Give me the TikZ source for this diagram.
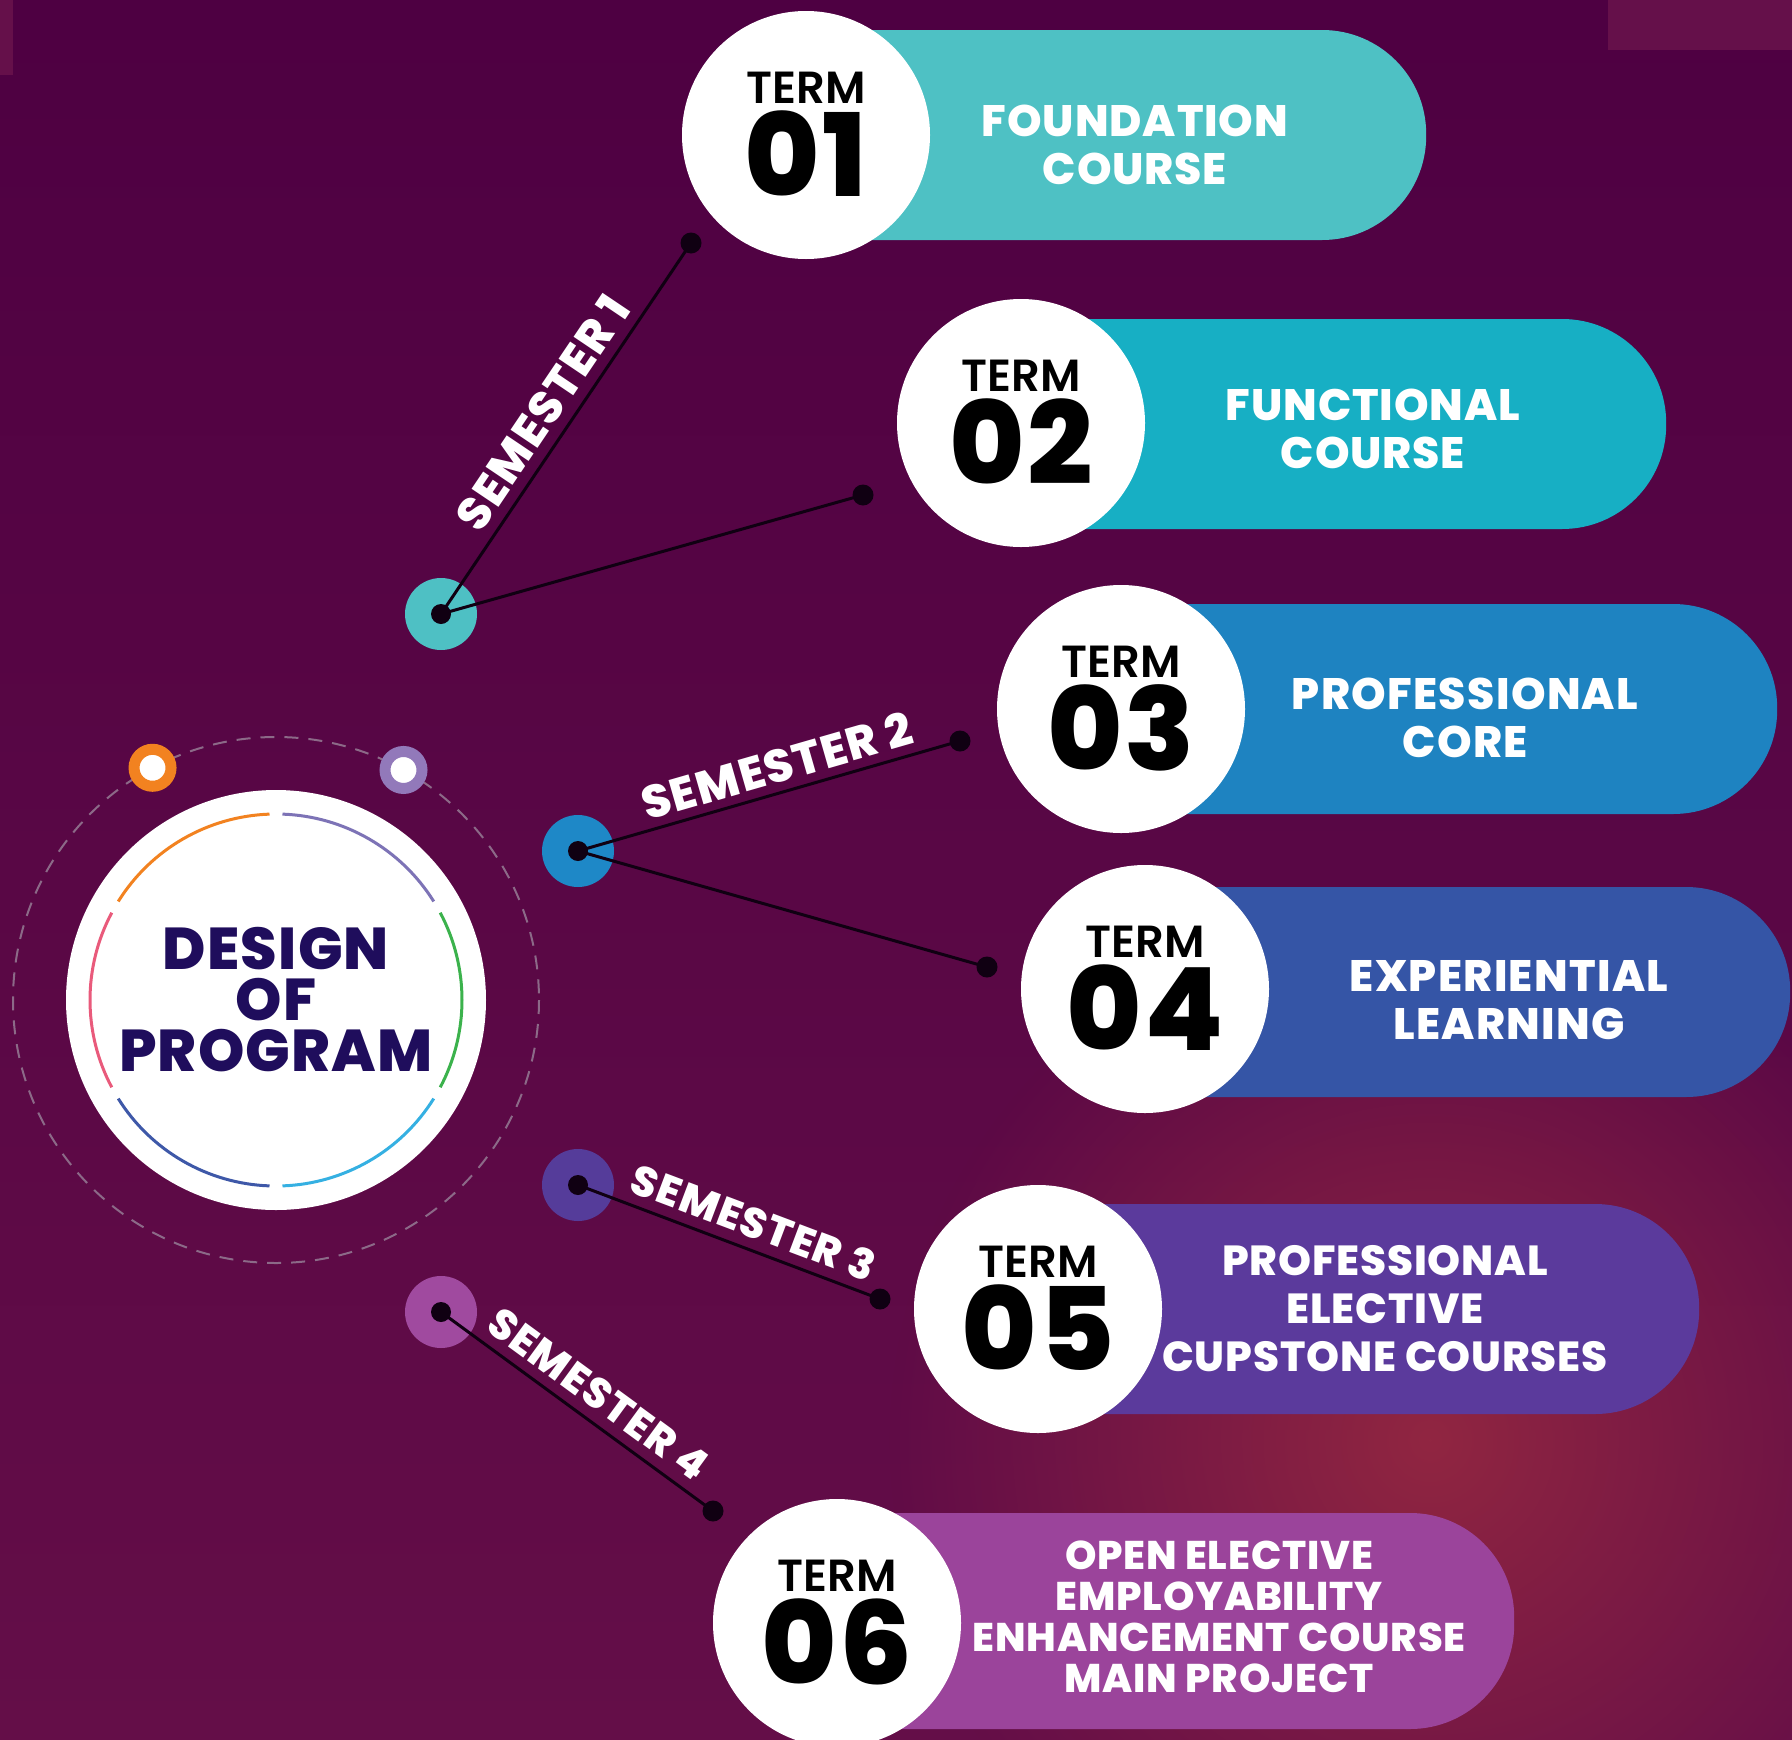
\documentclass[tikz,border=0pt]{standalone}
\usepackage{fontspec}
\setmainfont{Poppins}
\newfontfamily\heavyfont{Poppins ExtraBold}[LetterSpace=3]
\newfontfamily\coursefont{Poppins ExtraBold}[LetterSpace=2]
\newfontfamily\numfont{Poppins ExtraBold}[LetterSpace=2]
\newfontfamily\semifont{Poppins SemiBold}
\usetikzlibrary{positioning,fadings}

\definecolor{bgtop}{HTML}{4E0042}
\definecolor{bgbot}{HTML}{640E48}
\definecolor{glow}{HTML}{912641}
\definecolor{cornerpink}{HTML}{65104A}
\definecolor{tealA}{HTML}{4EC1C4}
\definecolor{tealB}{HTML}{17AFC4}
\definecolor{blueC}{HTML}{1E83C1}
\definecolor{blueD}{HTML}{3555A6}
\definecolor{violE}{HTML}{5B3A9C}
\definecolor{plumF}{HTML}{9B449B}
\definecolor{hubA}{HTML}{4EC0C4}
\definecolor{hubB}{HTML}{1E88C7}
\definecolor{hubC}{HTML}{553C9A}
\definecolor{hubD}{HTML}{A04A9F}
\definecolor{navy}{HTML}{1F0D5C}
\definecolor{dashcol}{HTML}{8C6A88}
\definecolor{linkcol}{HTML}{100012}
\definecolor{ringorange}{HTML}{F28220}
\definecolor{ringpink}{HTML}{E95A7B}
\definecolor{ringblue}{HTML}{3E58A8}
\definecolor{ringsky}{HTML}{35B0E2}
\definecolor{ringgreen}{HTML}{3BB24C}
\definecolor{ringlav}{HTML}{7D73B6}
\definecolor{orblav}{HTML}{9279BA}

\tikzfading[name=glowfade, inner color=transparent!0, outer color=transparent!100]

\begin{document}
\begin{tikzpicture}[x=1pt, y=-1pt,
  pill/.style={rectangle, rounded corners=104pt, minimum height=210, anchor=west, inner sep=0},
  termdisc/.style={circle, fill=white, minimum size=248, inner sep=0},
  termword/.style={anchor=base, text=black, font=\semifont\fontsize{45}{45}\selectfont},
  termnum/.style={anchor=base, text=black, font=\numfont\fontsize{115}{115}\selectfont},
  course/.style={align=center, text=white, font=\coursefont\fontsize{44}{48}\selectfont},
  hub/.style={circle, minimum size=72, inner sep=0},
  enddot/.style={circle, fill=linkcol, minimum size=21, inner sep=0},
  link/.style={draw=linkcol, line width=3},
  semlabel/.style={sloped, above=8pt, inner sep=2pt, text=white, font=\heavyfont\fontsize{46}{46}\selectfont},
  orb/.style={circle, fill=white, line width=11, minimum size=37, inner sep=0}]
\useasboundingbox (0,0) rectangle (1792,1740);
\clip (0,0) rectangle (1792,1740);
% background
\shade[top color=bgtop, bottom color=bgbot] (0,0) rectangle (1792,1740);
\fill[glow, path fading=glowfade] (1430,1440) circle (540);
\fill[cornerpink] (0,0) rectangle (13,75);
\fill[cornerpink] (1608,0) rectangle (1792,50);

% centre
\node[circle, fill=white, minimum size=420, inner sep=0, align=center, text=navy,
  font=\coursefont\fontsize{59}{51}\selectfont] (design) at (276,1000) {DESIGN\\OF\\PROGRAM};
\draw[dashcol, line width=2, dash pattern=on 14pt off 10pt] (design.center) circle (263);
\foreach \a/\c in {90/ringorange, 150/ringpink, 210/ringblue, 270/ringsky, 330/ringgreen, 30/ringlav}
  \draw[\c, line width=3] ([shift={({-\a-2}:186)}]design.center) arc[start angle={-\a-2}, end angle={-\a-58}, radius=186];
\node[orb, draw=ringorange] (orb1) at ([shift={(-118:263)}]design.center) {};
\node[orb, draw=orblav] (orb2) at ([shift={(-61:263)}]design.center) {};

% semesters
\node[hub, fill=hubA] (sem1) at (441,614) {};
\node[hub, fill=hubB] (sem2) at (578,851) {};
\node[hub, fill=hubC] (sem3) at (578,1185) {};
\node[hub, fill=hubD] (sem4) at (441,1312) {};
\node[enddot] (e1a) at (691,243) {};
\node[enddot] (e1b) at (863,495) {};
\node[enddot] (e2a) at (960,741) {};
\node[enddot] (e2b) at (987,967) {};
\node[enddot] (e3) at (880,1299) {};
\node[enddot] (e4) at (713,1511) {};
\draw[link] (sem1.center) -- (e1a.center) node[semlabel, pos=0.5] {SEMESTER 1};
\draw[link] (sem1.center) -- (e1b.center);
\draw[link] (sem2.center) -- (e2a.center) node[semlabel, pos=0.54, above=6pt] {SEMESTER 2};
\draw[link] (sem2.center) -- (e2b.center);
\draw[link] (sem3.center) -- (e3.center) node[semlabel, pos=0.55, font=\heavyfont\fontsize{42}{42}\selectfont] {SEMESTER 3};
\draw[link] (sem4.center) -- (e4.center) node[semlabel, pos=0.52, font=\heavyfont\fontsize{42}{42}\selectfont] {SEMESTER 4};
\foreach \s in {sem1,sem2,sem3,sem4}
  \fill[linkcol] (\s.center) circle (10);

% terms
\node[pill, fill=tealA, minimum width=680] (p1) at (746,135) {};
\node[termdisc] (t1) at (806,135) {};
\node[termword] (w1) at (806,103.5) {TERM};
\node[termnum] (n1) at (806,196) {01};
\node[course] (c1) at (1135,145) {FOUNDATION\\COURSE};

\node[pill, fill=tealB, minimum width=705] (p2) at (961,424) {};
\node[termdisc] (t2) at (1021,423) {};
\node[termword] (w2) at (1021,391.5) {TERM};
\node[termnum] (n2) at (1021,484) {02};
\node[course] (c2) at (1373,429) {FUNCTIONAL\\COURSE};

\node[pill, fill=blueC, minimum width=716] (p3) at (1061,709) {};
\node[termdisc] (t3) at (1121,709) {};
\node[termword] (w3) at (1121,677.5) {TERM};
\node[termnum] (n3) at (1121,770) {03};
\node[course, font=\heavyfont\fontsize{44}{48}\selectfont] (c3) at (1465,718) {PROFESSIONAL\\CORE};

\node[pill, fill=blueD, minimum width=705] (p4) at (1085,992) {};
\node[termdisc] (t4) at (1145,989) {};
\node[termword] (w4) at (1145,957.5) {TERM};
\node[termnum] (n4) at (1145,1050) {04};
\node[course, font=\heavyfont\fontsize{44}{48}\selectfont] (c4) at (1509,1000) {EXPERIENTIAL\\LEARNING};

\node[pill, fill=violE, minimum width=721] (p5) at (978,1309) {};
\node[termdisc] (t5) at (1038,1309) {};
\node[termword] (w5) at (1038,1277.5) {TERM};
\node[termnum] (n5) at (1038,1370) {05};
\node[course, font=\coursefont\fontsize{42}{48}\selectfont] (c5) at (1385,1309) {PROFESSIONAL\\ELECTIVE\\CUPSTONE COURSES};

\node[pill, fill=plumF, minimum width=737, minimum height=216] (p6) at (777,1621) {};
\node[termdisc] (t6) at (837,1623) {};
\node[termword] (w6) at (837,1591.5) {TERM};
\node[termnum] (n6) at (837,1684) {06};
\node[course, font=\coursefont\fontsize{40}{41}\selectfont] (c6) at (1219,1617) {OPEN ELECTIVE\\EMPLOYABILITY\\ENHANCEMENT COURSE\\MAIN PROJECT};
\end{tikzpicture}
\end{document}
